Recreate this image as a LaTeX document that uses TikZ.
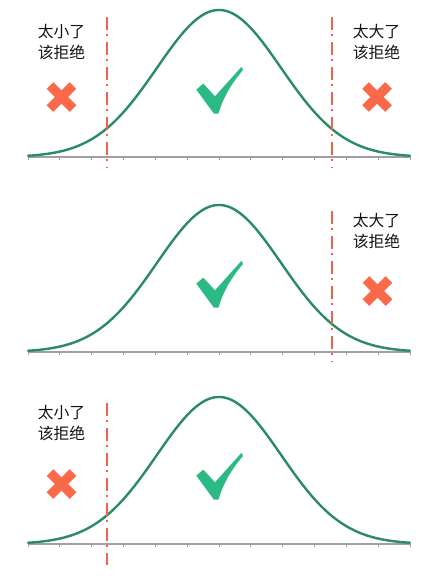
\documentclass[tikz,border=0pt]{standalone}
\usepackage{fontspec}
\newfontfamily\cjk{Noto Sans CJK SC}
\definecolor{curvegreen}{HTML}{2A8A6A}
\definecolor{checkgreen}{HTML}{2BBA84}
\definecolor{crossred}{HTML}{FA6A4A}
\definecolor{dashred}{HTML}{EE6450}
\definecolor{axisgray}{HTML}{A0A0A0}
\tikzset{
  bell/.style={draw=curvegreen, line width=2.4pt, line cap=round},
  axisline/.style={draw=axisgray, line width=1.1pt},
  tickline/.style={draw=axisgray, line width=0.8pt},
  limitline/.style={draw=dashred, line width=1.8pt, dash pattern=on 13pt off 4pt on 2pt off 6pt},
  crossarm/.style={draw=crossred, line width=9.5pt},
  label/.style={font=\cjk\fontsize{15.8pt}{21pt}\selectfont, text=black!92, align=left, inner sep=0pt},
}
\newcommand{\bellpanel}[1]{%
  \begin{scope}[yshift=-#1pt]
    \draw[axisline] (28,157) -- (410,157);
    \foreach \i in {0,...,12} { \draw[tickline] ({28+\i*31.833},157) -- ({28+\i*31.833},160); }
    \draw[bell] plot[domain=28:410, samples=120, smooth] (\x, {157-147*exp(-((\x-219)/62)^2/2)});
  \end{scope}}
\newcommand{\checkmk}[1]{%
  \fill[checkgreen, yshift=-#1pt] (196.3,89.6) -- (203.3,83.6) -- (215,96.3) -- (241.5,66.8) -- (243,70)
     .. controls (231,84) and (223,98) .. (218.5,113.5) -- (213.8,113.5) -- cycle;}
\newcommand{\crossmk}[3]{%
  \draw[crossarm, yshift=-#3pt] ({#1-11.5},{#2-11.5}) -- ({#1+11.5},{#2+11.5});
  \draw[crossarm, yshift=-#3pt] ({#1-11.5},{#2+11.5}) -- ({#1+11.5},{#2-11.5});}
\begin{document}
\begin{tikzpicture}[x=1pt, y=-1pt]
  \useasboundingbox[fill=white] (0,0) rectangle (437,576);
  % panel 1
  \bellpanel{0}
  \checkmk{0}
  \crossmk{61.5}{97}{0}
  \crossmk{377}{97}{0}
  \coordinate (l1a) at (107,17); \coordinate (l1b) at (107,168);
  \coordinate (r1a) at (332,17); \coordinate (r1b) at (332,168);
  \draw[limitline] (l1a) -- (l1b);
  \draw[limitline] (r1a) -- (r1b);
  \node[label] (t1) at (61.5,42) {太小了\\该拒绝};
  \node[label] (t2) at (376.5,42) {太大了\\该拒绝};
  % panel 2
  \bellpanel{195}
  \checkmk{194}
  \crossmk{377.5}{96}{195}
  \coordinate (r2a) at (332,211); \coordinate (r2b) at (332,362);
  \draw[limitline] (r2a) -- (r2b);
  \node[label] (t3) at (376.5,231) {太大了\\该拒绝};
  % panel 3
  \bellpanel{387}
  \checkmk{386}
  \crossmk{61.5}{97}{387}
  \coordinate (l3a) at (107,403); \coordinate (l3b) at (107,565);
  \draw[limitline] (l3a) -- (l3b);
  \node[label] (t4) at (61.5,423.5) {太小了\\该拒绝};
\end{tikzpicture}
\end{document}
